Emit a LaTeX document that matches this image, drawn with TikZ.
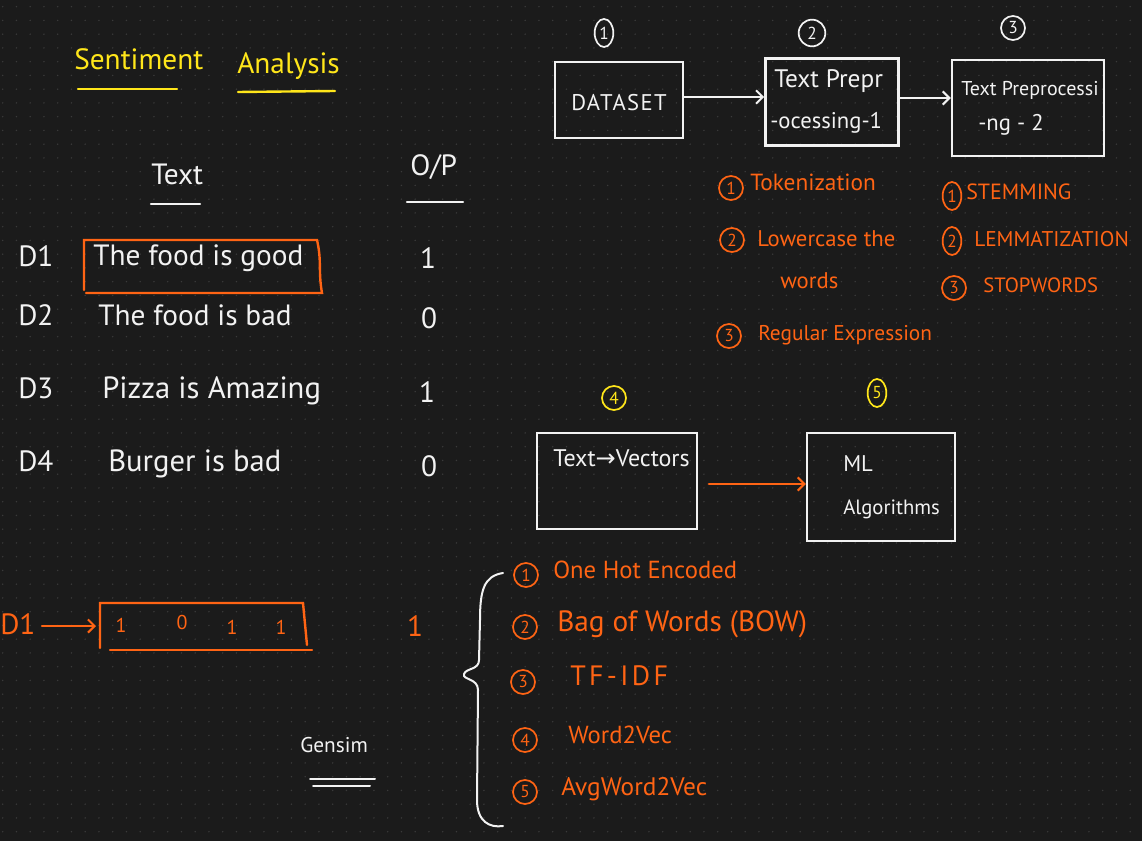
\documentclass[tikz,border=0pt]{standalone}
\usepackage{fontspec}
\setmainfont{PT Sans}
\newfontfamily\symf{DejaVu Sans}
\usetikzlibrary{arrows.meta,shapes.geometric}
\definecolor{bg}{HTML}{1B1B1B}
\definecolor{dotc}{HTML}{3A3A3A}
\definecolor{ink}{HTML}{F2F2F2}
\definecolor{org}{HTML}{FF6414}
\definecolor{yel}{HTML}{FFE61A}
\newcommand{\fs}[1]{\fontsize{#1}{#1}\selectfont}
\begin{document}
\begin{tikzpicture}[x=0.75pt,y=-0.75pt,
  every node/.style={inner sep=0pt},
  wt/.style={text=ink,anchor=mid west},
  ot/.style={text=org,anchor=mid west},
  big/.style={font=\fs{22}},
  med/.style={font=\fs{17}},
  sml/.style={font=\fs{15}},
  wline/.style={draw=ink,line width=1.8pt,line cap=round},
  oline/.style={draw=org,line width=1.8pt,line cap=round},
  yline/.style={draw=yel,line width=1.8pt,line cap=round},
  wbox/.style={draw=ink,line width=1.8pt},
  num/.style={circle,draw,line width=1.3pt,minimum size=18pt,font=\fs{13}},
  tall/.style={ellipse,minimum width=14pt,minimum height=21pt},
  arr/.style={-{Straight Barb[length=5pt,width=10pt,line width=1.5pt]}}
]
\fill[bg] (0,0) rectangle (1142,841);
\useasboundingbox (0,0) rectangle (1142,841);
\foreach \i in {0,...,82}{\foreach \j in {0,...,60}{\fill[dotc] ({2.7+13.75*\i},{6.7+13.75*\j}) circle (0.8);}}

% ---------- title ----------
\node[text=yel,big,anchor=mid west] (t1) at (74,66) {Sentiment};
\node[text=yel,big,anchor=mid west] (t2) at (237,70) {Analysis};
\draw[yline] (78,89) -- (177,89);
\draw[yline] (238,92) -- (335,91);

% ---------- table ----------
\node[wt,big] (htext) at (151,181) {Text};
\draw[wline] (151,204) -- (200,204);
\node[wt,big] (hop) at (410,172) {O/P};
\draw[wline] (407,202) -- (463,202);

\node[wt,big] (d1) at (18,263) {D1};
\node[wt,big] (d2) at (18,322) {D2};
\node[wt,big] (d3) at (18,395) {D3};
\node[wt,big] (d4) at (18,468) {D4};
\node[wt,big] (s1) at (93,262) {The food is good};
\node[wt,big] (s2) at (98,322) {The food is bad};
\node[wt,font=\fs{23}] (s3) at (102,395) {Pizza is Amazing};
\node[wt,font=\fs{23}] (s4) at (108,468) {Burger is bad};
\node[text=ink,big] (o1) at (428,258) {1};
\node[text=ink,big] (o2) at (429,318) {0};
\node[text=ink,big] (o3) at (427,392) {1};
\node[text=ink,big] (o4) at (429,466) {0};
\draw[oline] (84,290) -- (84,240) -- (317,240) .. controls (322,262) and (318,270) .. (322,293) -- (86,293);

% ---------- vector ----------
\node[ot,big] (dv) at (0,631) {D1};
\coordinate (vs) at (42,626);
\coordinate (vl) at (96,626);
\draw[oline,arr] (vs) -- (vl);
\draw[oline] (100,648) -- (100,603) -- (303,603) -- (307,645);
\draw[oline] (110,650) -- (312,650);
\node[text=org,sml] (v1) at (121,625) {1};
\node[text=org,sml] (v2) at (182,622) {0};
\node[text=org,sml] (v3) at (232,627) {1};
\node[text=org,sml] (v4) at (281,627) {1};
\node[text=org,big] (vo) at (415,626) {1};

\node[wt,font=\fs{16}] (gensim) at (300,749) {Gensim};
\draw[wline,line width=1.5pt] (310,779) -- (375,779);
\draw[wline,line width=1.5pt] (313,786) -- (370,786);

% ---------- brace ----------
\draw[wline,line width=1.5pt] (503,573) .. controls (484,576) and (480,590) .. (480,620)
  -- (479,660) .. controls (479,670) and (466,668) .. (464,674)
  .. controls (462,680) and (478,678) .. (478,690)
  -- (477,800) .. controls (477,822) and (490,828) .. (503,826);

\foreach \n/\y/\x in {1/575/526,2/627/525,3/682/523,4/740/525,5/792/525}{
  \node[num,draw=org,text=org] (e\n) at (\x,\y) {\n};
}
\node[ot,font=\fs{18.5}] (l1) at (553,575) {One Hot Encoded};
\node[ot,font=\fs{22}] (l2) at (557,628) {Bag of Words (BOW)};
\node[ot,font=\fs{21}\addfontfeature{LetterSpace=12}] (l3) at (570,682) {TF-IDF};
\node[ot,font=\fs{18.5}] (l4) at (568,740) {Word2Vec};
\node[ot,font=\fs{19}] (l5) at (561,792) {AvgWord2Vec};

% ---------- pipeline top ----------
\node[num,tall,draw=ink,text=ink] (p1) at (604,33) {1};
\node[num,draw=ink,text=ink,minimum size=20pt] (p2) at (812,33) {2};
\node[num,draw=ink,text=ink] (p3) at (1013,28) {3};

\node[wbox,minimum width=96pt,minimum height=57pt] (ds) at (619,100) {};
\node[text=ink,font=\fs{17}\addfontfeature{LetterSpace=6}] (dst) at (619,103) {DATASET};
\node[wbox,minimum width=100pt,minimum height=65pt] (tp1) at (832,102) {};
\node[wt,font=\fs{19}] (tp1a) at (774,84) {Text Prepr};
\node[wt,font=\fs{17}] (tp1b) at (770,125) {-ocessing-1};
\node[wbox,minimum width=114pt,minimum height=72pt] (tp2) at (1028,108) {};
\node[wt,sml] (tp2a) at (961,92) {Text Preprocessi};
\node[wt,font=\fs{17}] (tp2b) at (978,127) {-ng - 2};
\draw[wline,arr] (ds.east |- 0,97) -- (tp1.west |- 0,97);
\draw[wline,arr] (tp1.east |- 0,98) -- (tp2.west |- 0,98);

% orange lists
\node[num,draw=org,text=org] (a1) at (731,188) {1};
\node[ot,font=\fs{17.5}] (a1t) at (750,187) {Tokenization};
\node[num,draw=org,text=org] (a2) at (732,240) {2};
\node[ot,font=\fs{17}] (a2t) at (757,243) {Lowercase the};
\node[ot,font=\fs{17}] (a2u) at (780,285) {words};
\node[num,draw=org,text=org] (a3) at (729,336) {3};
\node[ot,font=\fs{16}] (a3t) at (758,337) {Regular Expression};

\node[num,draw=org,text=org,tall] (b1) at (952,196) {1};
\node[ot,font=\fs{16.5}] (b1t) at (966,196) {STEMMING};
\node[num,draw=org,text=org,tall] (b2) at (952,241) {2};
\node[ot,font=\fs{16}] (b2t) at (974,243) {LEMMATIZATION};
\node[num,draw=org,text=org] (b3) at (954,288) {3};
\node[ot,font=\fs{15.5}] (b3t) at (983,289) {STOPWORDS};

% ---------- pipeline bottom ----------
\node[num,draw=yel,text=yel] (p4) at (614,398) {4};
\node[num,tall,draw=yel,text=yel] (p5) at (877,393) {5};
\node[wbox,minimum width=120pt,minimum height=72pt] (tv) at (617,481) {};
\node[wt,font=\fs{18}] (tvt) at (553,463) {Text{\symf→}Vectors};
\node[wbox,minimum width=111pt,minimum height=81pt] (ml) at (881,487) {};
\node[wt,font=\fs{17}] (mlt1) at (843,468) {ML};
\node[wt,font=\fs{15.5}] (mlt2) at (843,511) {Algorithms};
\draw[oline,arr] ([xshift=8pt]tv.east |- 0,484) -- (ml.west |- 0,484);
\end{tikzpicture}
\end{document}
